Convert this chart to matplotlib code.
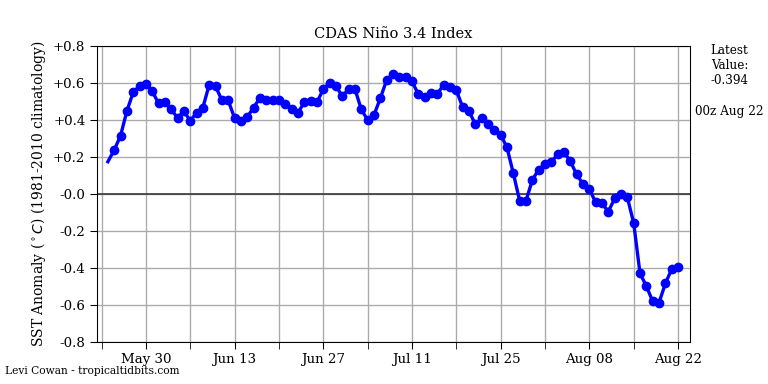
import numpy as np
import pandas as pd
import matplotlib
matplotlib.use("Agg")
import matplotlib.pyplot as plt
import matplotlib.dates as mdates

plt.rcParams['font.family'] = ['DejaVu Serif']

# daily Nino 3.4 values, May 24 .. Aug 22
start_date = "2023-05-24"
end_date = "2023-08-22"
anomaly = [
    0.175, 0.238, 0.315, 0.449, 0.550, 0.584, 0.595, 0.557, 0.490, 0.496,
    0.459, 0.411, 0.449, 0.396, 0.440, 0.468, 0.591, 0.584, 0.506, 0.506,
    0.411, 0.393, 0.416, 0.468, 0.519, 0.506, 0.508, 0.508, 0.488, 0.459,
    0.438, 0.497, 0.503, 0.496, 0.566, 0.602, 0.586, 0.528, 0.568, 0.568,
    0.458, 0.400, 0.427, 0.517, 0.616, 0.649, 0.631, 0.634, 0.609, 0.541,
    0.526, 0.548, 0.541, 0.591, 0.578, 0.562, 0.470, 0.449, 0.377, 0.411,
    0.378, 0.346, 0.321, 0.252, 0.112, -0.036, -0.036, 0.076, 0.133, 0.162,
    0.173, 0.216, 0.227, 0.177, 0.106, 0.054, 0.027, -0.045, -0.050, -0.094,
    -0.023, 0.002, -0.018, -0.157, -0.429, -0.497, -0.580, -0.586, -0.483, -0.405,
    -0.394,
]
latest_text = "Latest\nValue:\n-0.394"
stamp_text = "00z Aug 22"
yticks = [-0.8, -0.6, -0.4, -0.2, 0.0, 0.2, 0.4, 0.6, 0.8]
ytick_labels = ["-0.8", "-0.6", "-0.4", "-0.2", "-0.0", "+0.2", "+0.4", "+0.6", "+0.8"]

dates = pd.date_range(start_date, end_date, freq="D")

fig = plt.figure(figsize=(8, 4), dpi=96)
ax = fig.add_axes([0.126, 0.109, 0.772, 0.771])

ax.plot(dates, anomaly, color="blue", lw=2.5, zorder=3)
ax.plot(dates[1:], anomaly[1:], "o", color="blue", ms=6.3, zorder=4)
ax.axhline(0, color="#333333", lw=1.2, zorder=2)

ax.set_ylim(-0.8, 0.8)
ax.set_yticks(yticks)
ax.set_yticklabels(ytick_labels)
ax.set_xlim(pd.Timestamp("2023-05-22 06:00"), pd.Timestamp("2023-08-23 20:00"))

major_days = pd.date_range("2023-05-30", "2023-08-22", freq="14D")
minor_days = pd.date_range("2023-05-23", "2023-08-22", freq="7D")
ax.set_xticks(major_days)
ax.set_xticks(minor_days, minor=True)
ax.xaxis.set_major_formatter(mdates.DateFormatter("%b %d"))
ax.tick_params(axis="both", which="major", labelsize=10, length=5)
ax.tick_params(axis="x", which="minor", length=5)

ax.grid(True, which="both", color="#aaaaaa", lw=1.0)
ax.set_axisbelow(True)

ax.set_title("CDAS Niño 3.4 Index", fontsize=11)
ax.set_ylabel(r"SST Anomaly ($^\circ C$) (1981-2010 climatology)", fontsize=10.4)

fig.text(0.950, 0.885, latest_text, ha="center", va="top", fontsize=9, linespacing=1.2)
fig.text(0.950, 0.710, stamp_text, ha="center", va="center", fontsize=9)
fig.text(0.006, 0.035, "Levi Cowan - tropicaltidbits.com", ha="left", va="center", fontsize=8)

fig.savefig("out.png", dpi=96)
